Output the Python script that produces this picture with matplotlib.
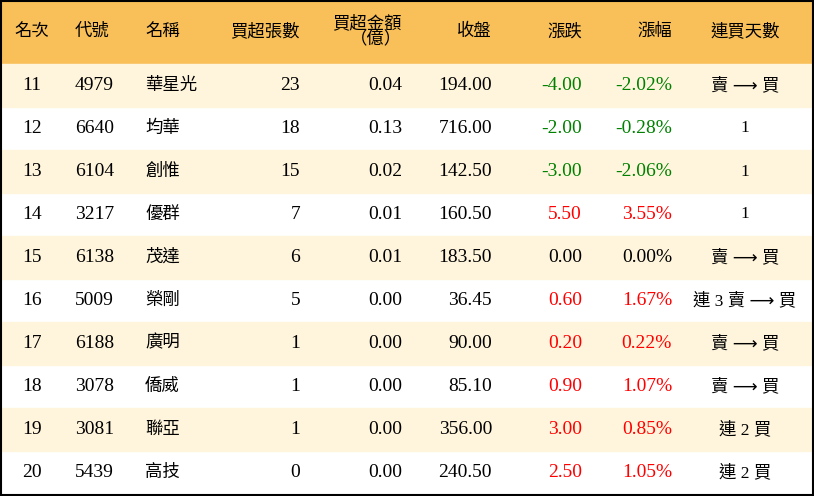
import matplotlib.pyplot as plt
from matplotlib.patches import Rectangle

ranks = [11, 12, 13, 14, 15, 16, 17, 18, 19, 20]
codes = ["4979", "6640", "6104", "3217", "6138", "5009", "6188", "3078", "3081", "5439"]
names = ["華星光", "均華", "創惟", "優群", "茂達", "榮剛", "廣明", "僑威", "聯亞", "高技"]
net_lots = [23, 18, 15, 7, 6, 5, 1, 1, 1, 0]
net_amount = [0.04, 0.13, 0.02, 0.01, 0.01, 0.00, 0.00, 0.00, 0.00, 0.00]
close = [194.00, 716.00, 142.50, 160.50, 183.50, 36.45, 90.00, 85.10, 356.00, 240.50]
change = [-4.00, -2.00, -3.00, 5.50, 0.00, 0.60, 0.20, 0.90, 3.00, 2.50]
change_pct = [-2.02, -0.28, -2.06, 3.55, 0.00, 1.67, 0.22, 1.07, 0.85, 1.05]
streak = ["賣 ⟶ 買", "1", "1", "1", "賣 ⟶ 買", "連 3 賣 ⟶ 買", "賣 ⟶ 買", "賣 ⟶ 買", "連 2 買", "連 2 買"]
headers = ["名次", "代號", "名稱", "買超張數", "買超金額\n（億）", "收盤", "漲跌", "漲幅", "連買天數"]

FONT = ["Liberation Serif", "Noto Sans CJK TC", "DejaVu Sans"]
W, H = 814, 496
HEADER_H = 64
ROW_H = (H - 2 - HEADER_H) / len(ranks)

# (x, alignment) per column
cols = [(32, "center"), (75, "left"), (145, "left"), (300, "right"), (402, "right"),
        (492, "right"), (582, "right"), (672, "right"), (745, "center")]


def color_for(v):
    if v > 0:
        return "#ff0000"
    if v < 0:
        return "#008000"
    return "black"


fig = plt.figure(figsize=(W / 100, H / 100), dpi=100)
ax = fig.add_axes([0, 0, 1, 1])
ax.set_xlim(0, W)
ax.set_ylim(H, 0)
ax.axis("off")

ax.add_patch(Rectangle((0, 0), W, HEADER_H, color="#f9c05a", zorder=0))
for i, (x, ha) in enumerate(cols):
    ax.text(x, HEADER_H / 2, headers[i], ha=ha, va="center", fontsize=12.5,
            family=FONT, linespacing=0.95)

for r in range(len(ranks)):
    y0 = HEADER_H + r * ROW_H
    if r % 2 == 0:
        ax.add_patch(Rectangle((0, y0), W, ROW_H, color="#fff5dc", zorder=0))
    yc = y0 + ROW_H / 2
    vals = [str(ranks[r]), codes[r], names[r], str(net_lots[r]), f"{net_amount[r]:.2f}",
            f"{close[r]:.2f}", f"{change[r]:.2f}", f"{change_pct[r]:.2f}%", streak[r]]
    colors = ["black"] * 6 + [color_for(change[r]), color_for(change_pct[r]), "black"]
    for i, (x, ha) in enumerate(cols):
        size = 12.5 if i in (2, 8) else 14
        ax.text(x, yc, vals[i], ha=ha, va="center", fontsize=size, family=FONT,
                color=colors[i])

ax.add_patch(Rectangle((1, 1), W - 2, H - 2, fill=False, edgecolor="black", lw=1.5, zorder=5))

fig.savefig("out.png", dpi=100)
